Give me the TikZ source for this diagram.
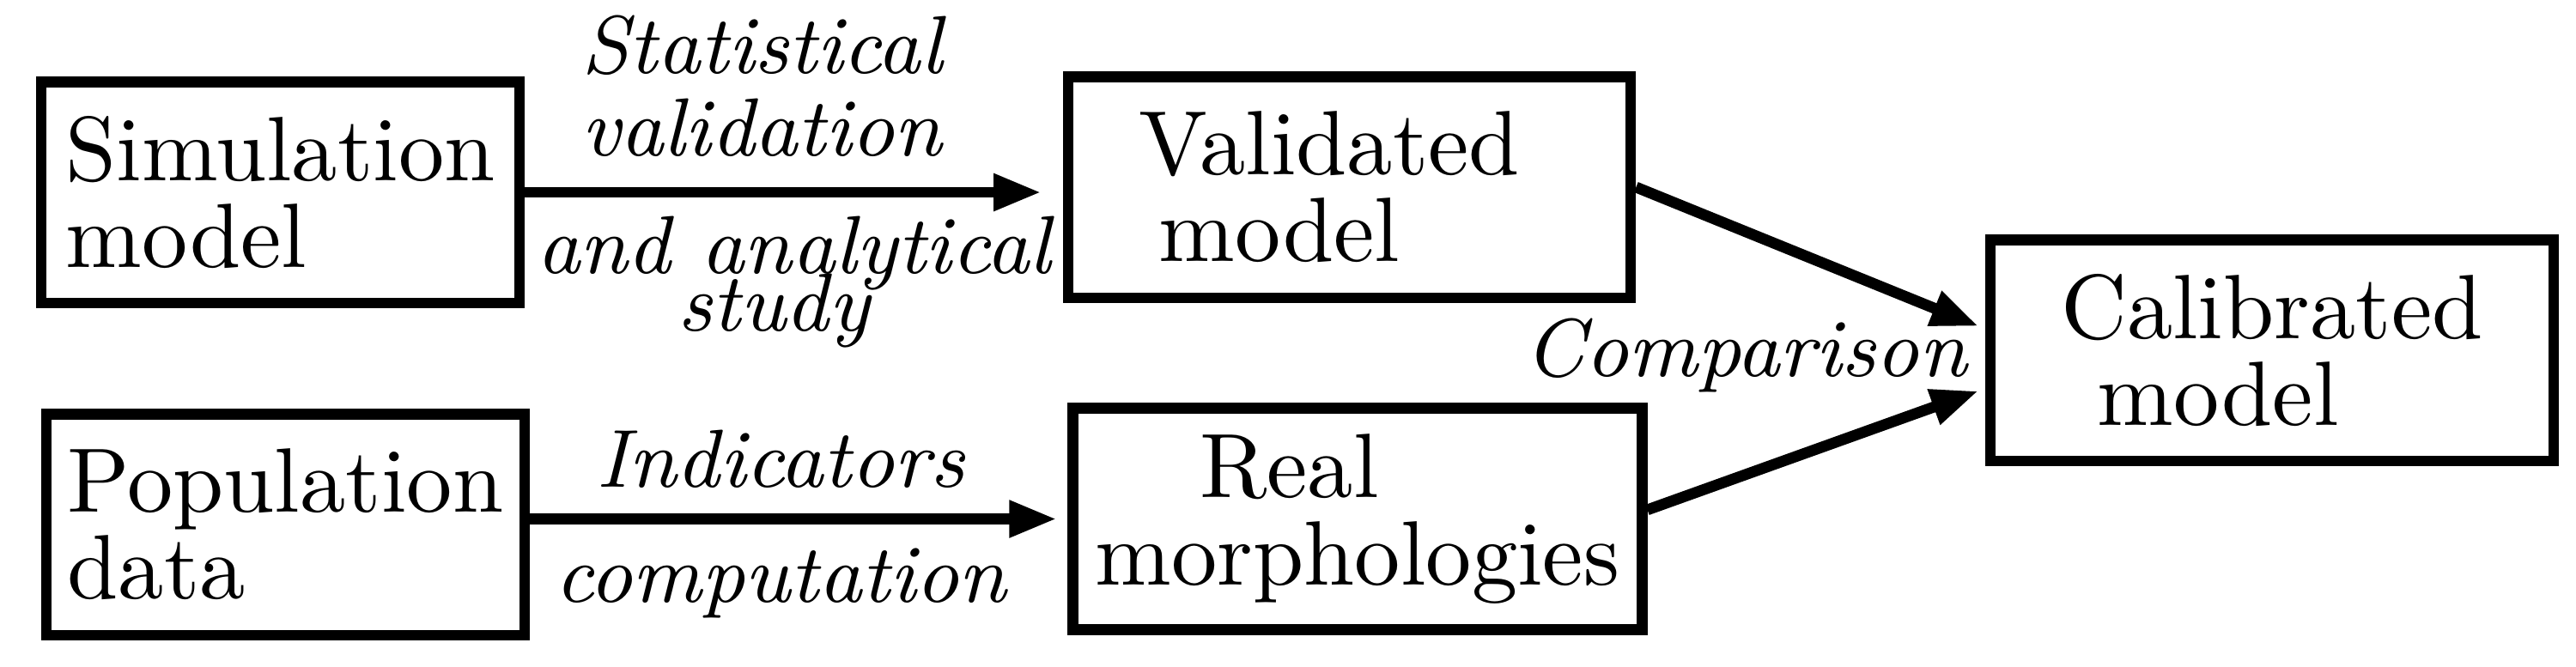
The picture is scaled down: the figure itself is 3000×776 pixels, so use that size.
\documentclass[tikz,border=0pt]{standalone}
\usetikzlibrary{arrows.meta,calc}

\tikzset{
  block/.style={draw, line width=1.2pt, minimum height=24.2pt, inner sep=0pt,
    align=left, font=\fontsize{10}{9.5}\selectfont},
  lbl/.style={align=center, font=\fontsize{9}{9}\selectfont\itshape},
}

\begin{document}
\begin{tikzpicture}[x=0.0939pt, y=-0.0939pt, line width=1.2pt,
  >={Triangle[length=5.2pt,width=3.8pt]}]
\useasboundingbox (0,0) rectangle (3000,776);

% boxes
\node [block, minimum width=52.3pt] (sim) at (326.5,224) {Simulation\\model};
\node [block, minimum width=52.3pt] (pop) at (332.5,611) {Population\\data};
\node [block, minimum width=61.5pt] (val) at (1571.5,218) {Validated\hspace*{4.4pt}\\\hspace*{2.2pt}model};
\node [block, minimum width=62.2pt] (real) at (1581,604.5) {\hspace*{11.4pt}Real\\morphologies};
\node [block, minimum width=61.6pt] (calib) at (2646,408) {Calibrated\\\hspace*{4pt}model};

% arrows to the middle column
\draw [->, shorten >=2.35pt] (sim.east) -- (sim.east -| val.west)
  node [midway, above, lbl, xshift=-3.5pt] (stat) {Statistical\\validation}
  node [midway, below, lbl, yshift=1.3pt] (anal) {and analytical\\[-2.7pt]study\hspace*{4.4pt}};
\draw [->, shorten >=1.2pt] (pop.east |- real.west) -- (real.west)
  node [midway, above, lbl, xshift=-2pt, yshift=-0.6pt] (ind) {Indicators}
  node [midway, below, lbl, xshift=-2pt, yshift=0.7pt] (comp) {computation};

% comparison
\draw [->, shorten >=0.75pt] (val.east) -- ($(calib.west)+(0,2.35pt)$);
\draw [->, shorten >=0.75pt] ($(real.east)+(0,1pt)$) -- ($(calib.west)+(0,-4.2pt)$);
\node [lbl, anchor=east, inner sep=1.4pt, yshift=-0.6pt] (cmp) at (calib.west) {Comparison};
\end{tikzpicture}
\end{document}
